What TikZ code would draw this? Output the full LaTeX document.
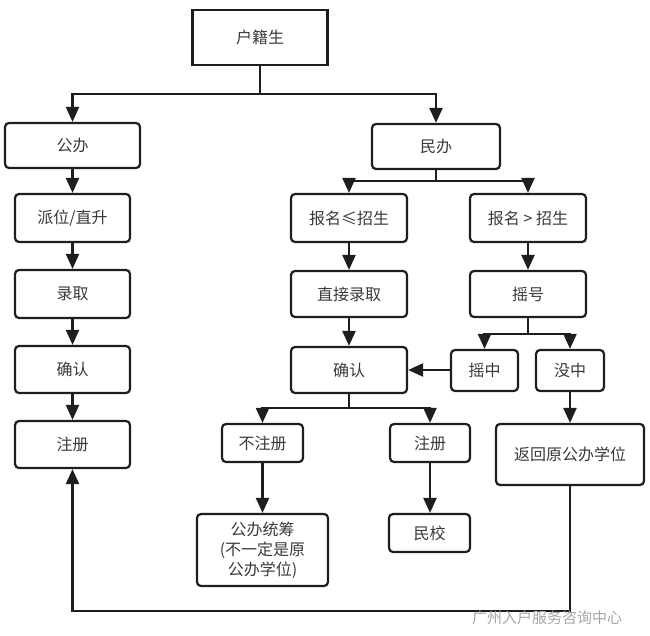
\documentclass[tikz,border=0pt]{standalone}
\usepackage{fontspec}
\setmainfont{Noto Sans CJK SC}
\usetikzlibrary{arrows.meta}
\definecolor{ln}{HTML}{1E1E1E}
\definecolor{tx}{HTML}{3A3A3A}
\tikzset{
  box/.style={draw=ln, line width=2.2pt, rounded corners=4pt, fill=white, text=tx,
    font=\fontsize{16}{20}\selectfont, inner sep=0pt, anchor=center},
  sqbox/.style={box, rounded corners=0pt},
  conn/.style={draw=ln, line width=2.2pt},
  arr/.style={conn, -{Triangle[length=15pt,width=13pt]}},
}
\newcommand{\bx}[6]{% name, x1,y1,x2,y2, text
  \node[box, minimum width=#4-#2, minimum height=#5-#3, align=center] (#1) at ({(#2+#4)/2},{(#3+#5)/2}) {#6};}
\begin{document}
\begin{tikzpicture}[x=1pt,y=-1pt]
\useasboundingbox (0,0) rectangle (650,636);
% top
\node[sqbox, minimum width=135, minimum height=55] (hj) at (260,37.5) {户籍生};
% left column
\bx{gb}{5}{123}{140}{168}{公办}
\bx{pw}{15}{194}{130}{242}{派位/直升}
\bx{lq}{15}{270}{130}{318}{录取}
\bx{qrL}{15}{346}{130}{393}{确认}
\bx{zcL}{15}{421}{130}{468}{注册}
% right side
\bx{mb}{372}{124}{500}{169}{民办}
\bx{bl}{291}{194}{407}{242}{报名≤招生}
\bx{bg}{470}{194}{586}{242}{报名 > 招生}
\bx{zj}{291}{271}{407}{317}{直接录取}
\bx{yh}{470}{271}{586}{317}{摇号}
\bx{qrM}{291}{347}{407}{393}{确认}
\bx{yz}{451}{350}{518}{391}{摇中}
\bx{mz}{536}{350}{604}{391}{没中}
\bx{fh}{496}{424}{644}{485}{返回原公办学位}
\bx{bzc}{222}{424}{303}{462}{不注册}
\bx{zcM}{390}{424}{470}{462}{注册}
\node[box, minimum width=131, minimum height=72, align=center, font=\fontsize{16}{20}\selectfont] (tc) at (262.5,550) {公办统筹\\(不一定是原\\公办学位)};
\bx{mx}{389}{514}{470}{552}{民校}
% split coordinates
\coordinate (s1) at (260,94);
\coordinate (s2) at (436,181);
\coordinate (s3) at (528,334);
\coordinate (s4) at (349,408);
\coordinate (r1) at (570,611);
\coordinate (r2) at (72.5,611);
% connectors
\draw[conn] (hj.south) -- (s1);
\draw[arr] (s1) -| (gb.north);
\draw[arr] (s1) -| (mb.north);
\draw[arr] (gb) -- (pw);
\draw[arr] (pw) -- (lq);
\draw[arr] (lq) -- (qrL);
\draw[arr] (qrL) -- (zcL);
\draw[conn] (mb.south) -- (s2);
\draw[arr] (s2) -| (bl.north);
\draw[arr] (s2) -| (bg.north);
\draw[arr] (bl) -- (zj);
\draw[arr] (bg) -- (yh);
\draw[arr] (zj) -- (qrM);
\draw[conn] (yh.south) -- (s3);
\draw[arr] (s3) -| (yz.north);
\draw[arr] (s3) -| (mz.north);
\draw[arr] (yz.west |- qrM.east) -- (qrM.east);
\draw[arr] (mz) -- (fh);
\draw[conn] (qrM.south) -- (s4);
\draw[arr] (s4) -| (bzc.north);
\draw[arr] (s4) -| (zcM.north);
\draw[arr] (bzc) -- (tc);
\draw[arr] (zcM.south) -- (zcM.south |- mx.north);
\draw[arr] (fh.south) -- (r1) -- (r2) -- (zcL.south);
% watermark
\node[text=black!35, font=\fontsize{15}{17}\selectfont, anchor=west, inner sep=0pt] (wm) at (472,618) {广州入户服务咨询中心};
\end{tikzpicture}
\end{document}
